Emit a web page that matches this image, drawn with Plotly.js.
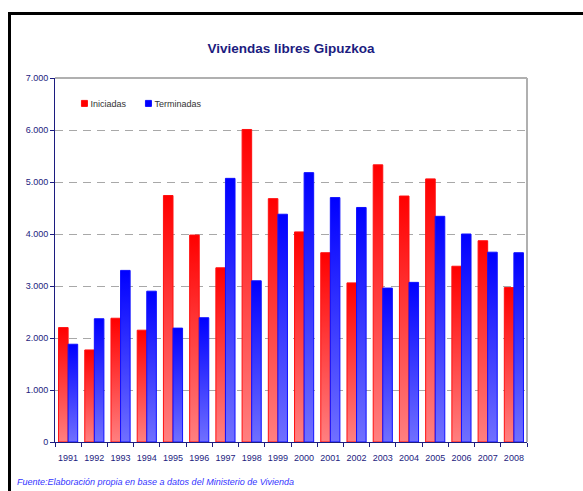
<!DOCTYPE html>
<html>
<head>
<meta charset="utf-8">
<script src="https://cdn.plot.ly/plotly-3.0.1.min.js"></script>
<style>
  html, body { margin: 0; padding: 0; background: #fff; }
  #wrap { position: relative; width: 583px; height: 491px; overflow: hidden; }
  #chart { position: absolute; left: 0; top: 0; width: 583px; height: 491px; }
  #frame { position: absolute; left: 8px; top: 12px; width: 700px; height: 600px;
           border-left: 3px solid #000; border-top: 3px solid #000; pointer-events: none; }
</style>
</head>
<body>
<div id="wrap">
  <div id="chart"></div>
  <div id="frame"></div>
</div>
<script>
const years = ['1991','1992','1993','1994','1995','1996','1997','1998','1999','2000',
               '2001','2002','2003','2004','2005','2006','2007','2008'];
const iniciadas = [2200,1770,2380,2150,4740,3980,3350,6010,4680,4040,
                   3640,3060,5330,4730,5060,3380,3870,2970];
const terminadas = [1880,2370,3300,2900,2190,2390,5070,3100,4380,5180,
                    4700,4510,2960,3070,4340,4000,3650,3640];
const seriesNames = ['Iniciadas','Terminadas'];
const titleText = 'Viviendas libres Gipuzkoa';
const sourceText = 'Fuente:Elaboración propia en base a datos del Ministerio de Vivienda';

const navy = '#1c1c80';
const font = 'Arial, "Liberation Sans", sans-serif';

const traces = [
  { type: 'bar', name: seriesNames[0], x: years, y: iniciadas,
    marker: { color: '#ff0000', line: { color: '#ff1010', width: 1 } }, hoverinfo: 'x+y' },
  { type: 'bar', name: seriesNames[1], x: years, y: terminadas,
    marker: { color: '#0000ff', line: { color: '#1010ff', width: 1 } }, hoverinfo: 'x+y' }
];

const layout = {
  width: 583, height: 491,
  margin: { l: 55, r: 56, t: 78, b: 49 },
  paper_bgcolor: '#ffffff', plot_bgcolor: '#ffffff',
  separators: ',.',
  showlegend: true,
  barmode: 'group', bargap: 0.27, bargroupgap: 0,
  font: { family: font, size: 9, color: navy },
  title: { text: '<b>' + titleText + '</b>', font: { family: font, size: 13.5, color: navy },
           x: 0.5, xref: 'paper', xanchor: 'center', y: 1 - 48/491, yref: 'container', yanchor: 'middle' },
  legend: { orientation: 'h', x: 0.02, xanchor: 'left', y: 0.97, yanchor: 'top',
            font: { family: font, size: 9, color: '#333333' }, bgcolor: 'rgba(0,0,0,0)',
            itemwidth: 30, tracegroupgap: 0 },
  xaxis: { type: 'category', showgrid: false, zeroline: false,
           showline: true, linecolor: navy, linewidth: 1, tickangle: 0,
           ticks: 'outside', tickson: 'boundaries', ticklen: 4, tickcolor: navy,
           ticklabelstandoff: 7,
           tickfont: { family: font, size: 9, color: navy }, fixedrange: true },
  yaxis: { range: [0, 7000], dtick: 1000, tickformat: ',d',
           showgrid: true, gridcolor: '#a8a8a8', griddash: '8px,6px', gridwidth: 1,
           zeroline: false, showline: true, linecolor: navy, linewidth: 1,
           ticks: 'outside', ticklen: 4, tickcolor: navy,
           tickfont: { family: font, size: 9, color: navy }, fixedrange: true },
  shapes: [
    { type: 'line', xref: 'paper', yref: 'paper', x0: 0, x1: 1, y0: 1, y1: 1,
      line: { color: '#b0b0b0', width: 2 }, layer: 'above' },
    { type: 'line', xref: 'paper', yref: 'paper', x0: 1, x1: 1, y0: 0, y1: 1,
      line: { color: '#b0b0b0', width: 2 }, layer: 'above' }
  ],
  annotations: [
    { text: sourceText, showarrow: false, xref: 'paper', yref: 'paper',
      x: (15 - 55) / 472, xanchor: 'left', y: (442 - 482) / 364, yanchor: 'middle',
      font: { family: font, size: 9, color: '#3333ff', style: 'italic' } }
  ]
};

Plotly.newPlot('chart', traces, layout, { displayModeBar: false, staticPlot: true }).then(function (gd) {
  const svg = gd.querySelector('svg.main-svg');
  const ns = 'http://www.w3.org/2000/svg';
  let defs = svg.querySelector('defs');
  if (!defs) { defs = document.createElementNS(ns, 'defs'); svg.insertBefore(defs, svg.firstChild); }
  const grads = [['gradRed', '#ff0000', '#ff8080'], ['gradBlue', '#0000ff', '#7070ff']];
  grads.forEach(function (g) {
    const lg = document.createElementNS(ns, 'linearGradient');
    lg.setAttribute('id', g[0]);
    lg.setAttribute('x1', '0'); lg.setAttribute('y1', '0');
    lg.setAttribute('x2', '0'); lg.setAttribute('y2', '1');
    const s1 = document.createElementNS(ns, 'stop');
    s1.setAttribute('offset', '0'); s1.setAttribute('stop-color', g[1]);
    const s2 = document.createElementNS(ns, 'stop');
    s2.setAttribute('offset', '1'); s2.setAttribute('stop-color', g[2]);
    lg.appendChild(s1); lg.appendChild(s2); defs.appendChild(lg);
  });
  svg.querySelectorAll('.barlayer .trace.bars').forEach(function (t, i) {
    t.querySelectorAll('.point path').forEach(function (p) {
      p.style.fill = 'url(#' + grads[i][0] + ')';
    });
  });
  // compact legend: small square symbols close to their labels
  const items = gd.querySelectorAll('.legend .traces');
  let firstX = null, firstY = 0;
  items.forEach(function (it, i) {
    it.querySelectorAll('.legendpoints path').forEach(function (p) {
      p.setAttribute('d', 'M3,3H-3V-3H3Z');
    });
    const txt = it.querySelector('text.legendtext');
    if (txt) txt.setAttribute('x', '26');
    const m = /translate\(([-\d.]+),\s*([-\d.]+)\)/.exec(it.getAttribute('transform') || '');
    if (m) {
      if (firstX === null) { firstX = parseFloat(m[1]); firstY = parseFloat(m[2]); }
      else it.setAttribute('transform', 'translate(' + (firstX + 64 * i) + ',' + firstY + ')');
    }
  });
});
</script>
</body>
</html>
